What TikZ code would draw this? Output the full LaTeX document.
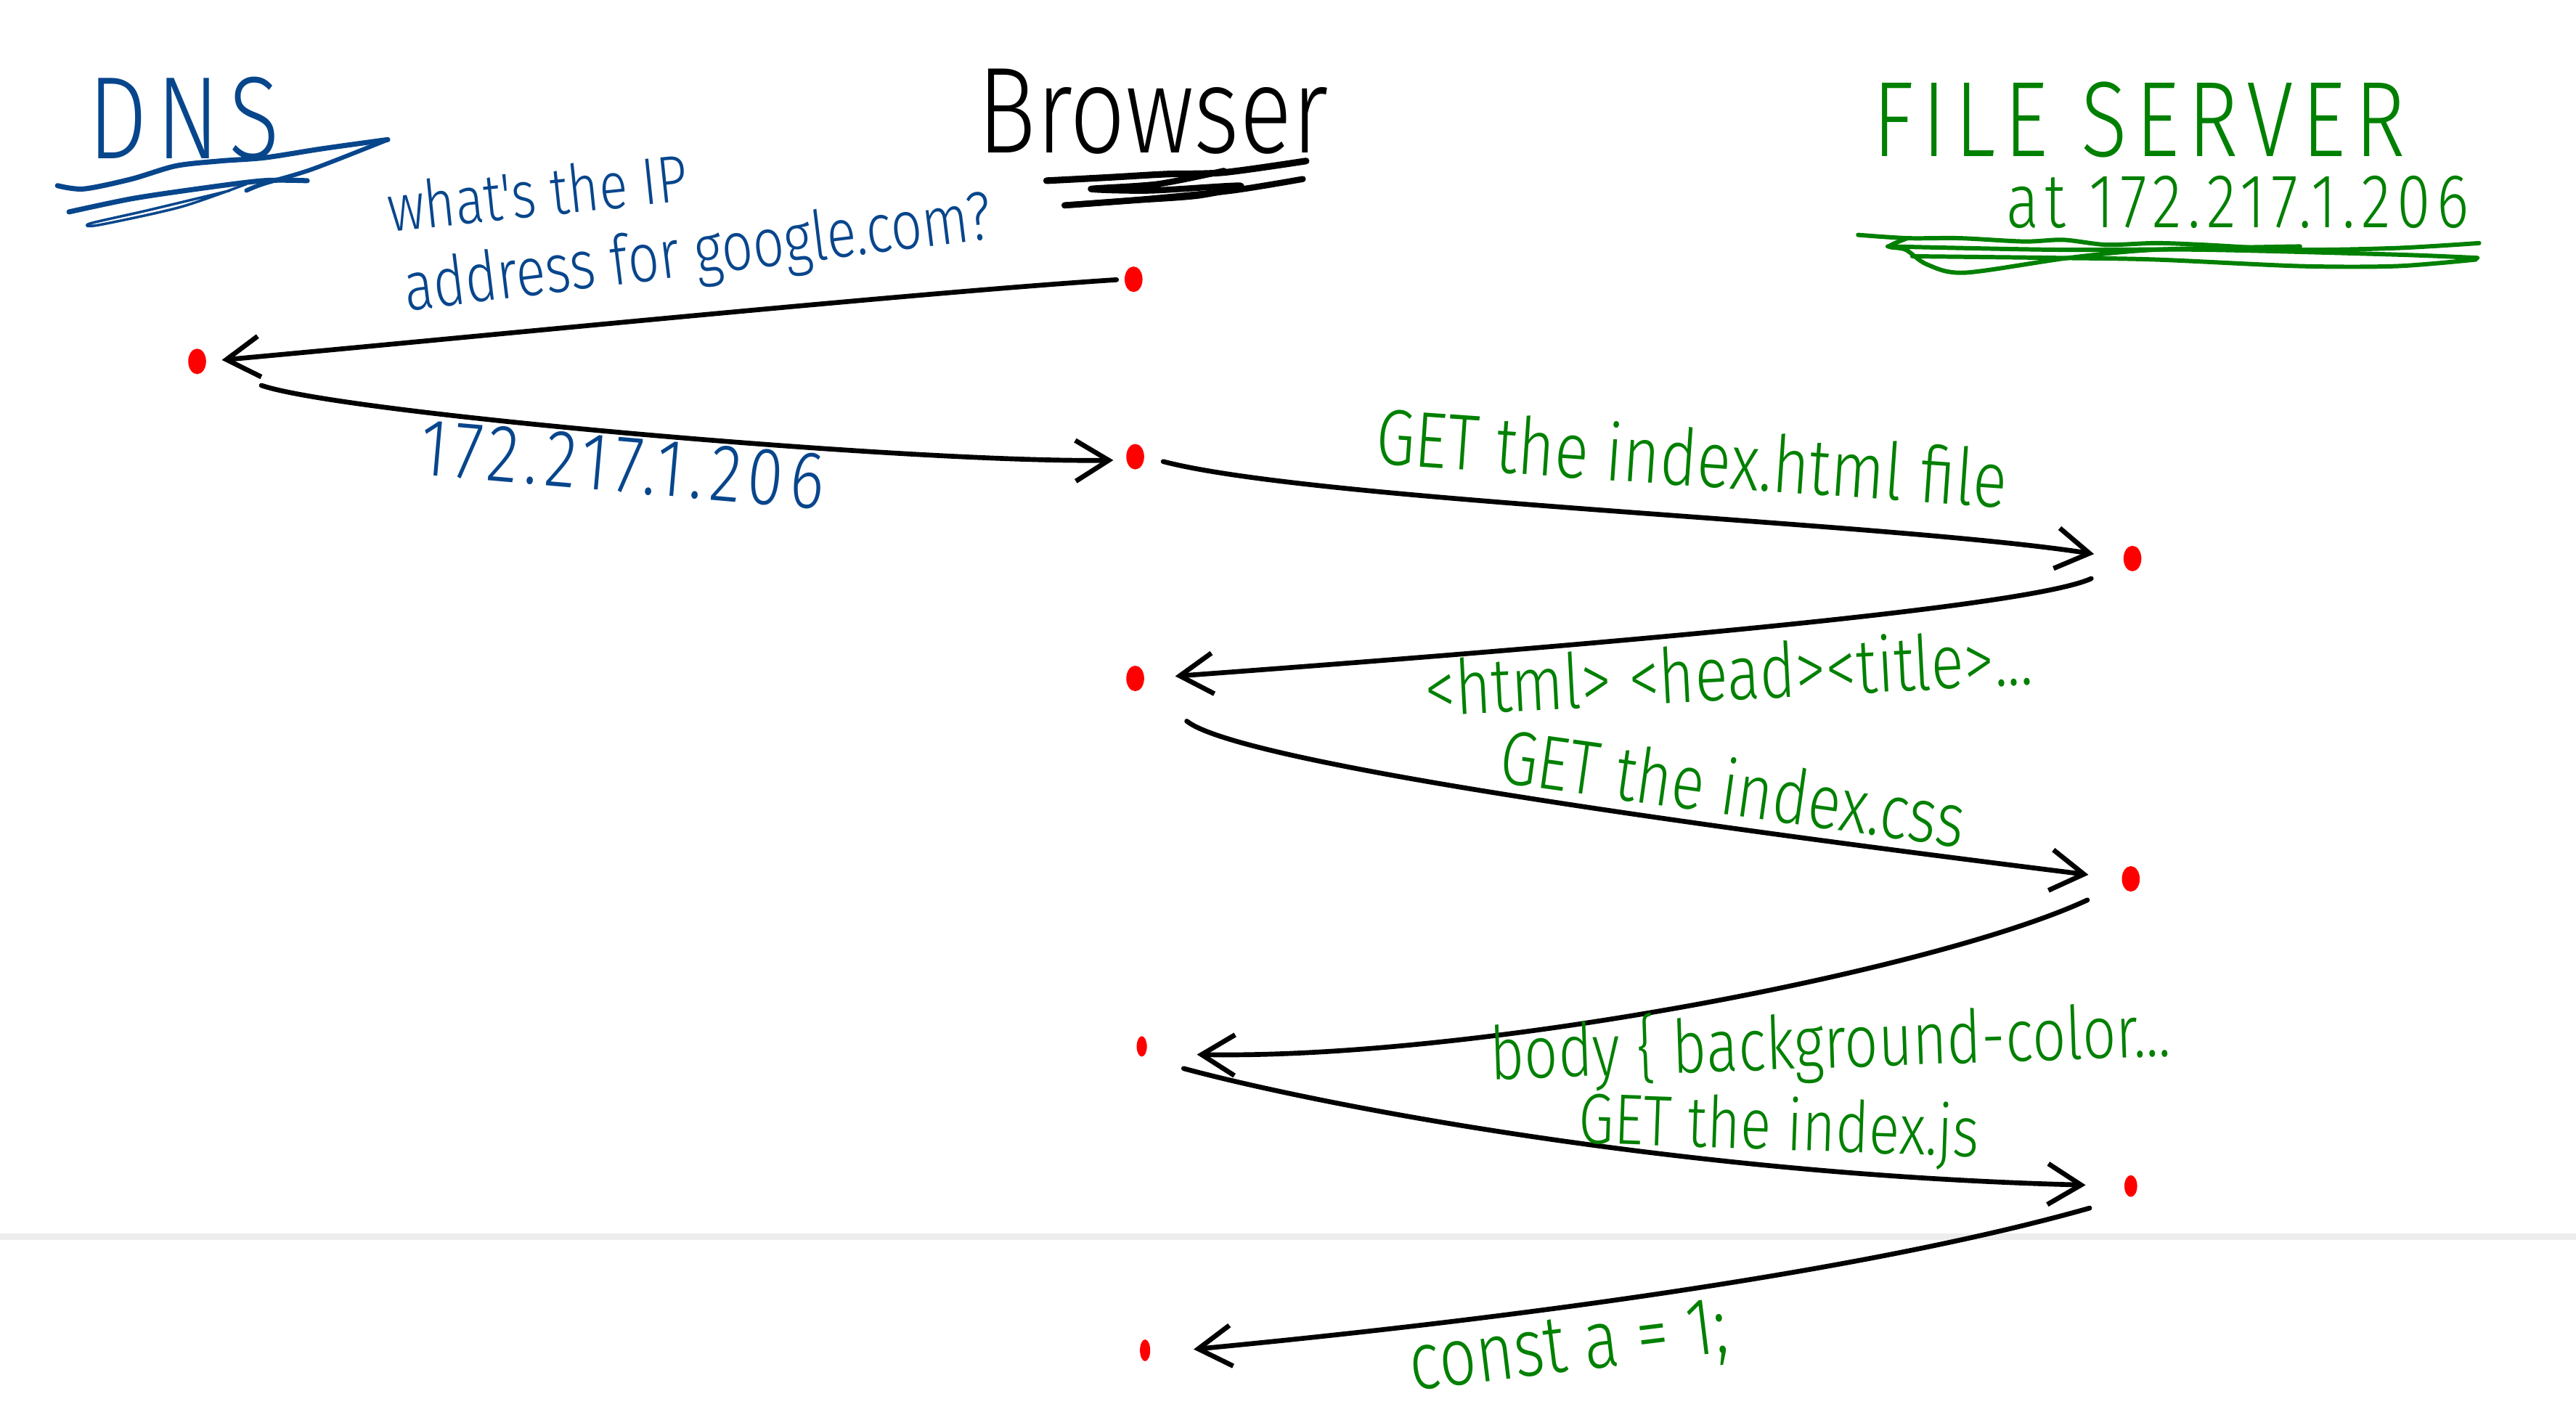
\documentclass[tikz,border=0pt]{standalone}
\usepackage{fontspec}
\newfontfamily\handfont[FakeStretch=0.8]{Fira Sans Light}
\newfontfamily\handwide[FakeStretch=0.8, LetterSpace=8]{Fira Sans Light}
\usetikzlibrary{arrows.meta, shapes.geometric}
\definecolor{inkblue}{RGB}{8,70,140}
\definecolor{inkgreen}{RGB}{0,128,0}
\definecolor{inkred}{RGB}{255,0,0}
\begin{document}
\begin{tikzpicture}[x=0.2263mm, y=-0.2263mm,
  every node/.style={inner sep=0pt},
  note/.style={font=\handfont\fontsize{#1}{#1}\selectfont},
  widenote/.style={font=\handwide\fontsize{#1}{#1}\selectfont},
  spot/.style={ellipse, fill=inkred, minimum width=7pt, minimum height=10pt},
  call/.style={line width=1.9pt, line cap=round, line join=round, -{Straight Barb[length=13pt, width=16pt]}},
  scribble/.style={line width=1.7pt, line cap=round, line join=round}
]
\fill[white] (0,0) rectangle (1568,869);
\useasboundingbox (0,0) rectangle (1568,869);

% page break
\draw[black!7, line width=2.5pt] (0,753) -- (1568,753);

% Headings
\node[widenote=46, text=inkblue] (dns) at (112,72) {DNS};
\node[note=48] (browser) at (702,68) {Browser};
\node[widenote=42, text=inkgreen] (server) at (1302,73) {FILE SERVER};
\node[widenote=30, text=inkgreen] (serverip) at (1362,123) {at 172.217.1.206};

% Underlines
\draw[scribble, inkblue, line width=2pt] plot[smooth] coordinates {(35,113) (51,115) (80,109) (107,101) (134,98) (161,96) (193,91) (214,88) (236,85)};
\draw[scribble, inkblue] plot[smooth] coordinates {(236,85) (190,103) (160,112) (150,116)};
\draw[scribble, inkblue, line width=2pt] plot[smooth] coordinates {(42,129) (80,121) (120,115) (160,110) (187,110)};
\draw[scribble, inkblue, line width=1pt] plot[smooth] coordinates {(150,112) (110,126) (60,137) (55,136) (90,128) (140,116)};
\draw[scribble, line width=2.6pt] plot[smooth] coordinates {(637,110) (675,108) (710,106) (745,105) (795,98)};
\draw[scribble, line width=2.4pt] plot[smooth] coordinates {(745,104) (705,112) (664,115) (700,116) (755,113) (730,119) (690,122) (648,125)};
\draw[scribble, line width=2.4pt] plot[smooth] coordinates {(648,125) (700,121) (750,116) (793,109)};
\draw[scribble, inkgreen] plot[smooth] coordinates {(1131,143) (1161,145) (1193,145) (1232,147) (1256,146) (1282,149) (1312,148) (1341,149) (1400,152) (1459,151) (1509,148)};
\draw[scribble, inkgreen] plot[smooth] coordinates {(1149,150) (1249,152) (1341,152) (1459,155) (1508,157)};
\draw[scribble, inkgreen] plot[smooth] coordinates {(1164,156) (1252,157) (1312,158) (1400,162) (1459,162) (1507,158)};
\draw[scribble, inkgreen] plot[smooth] coordinates {(1161,145) (1150,150) (1160,152) (1173,161) (1196,166) (1259,157) (1312,152) (1400,150)};

% Dots
\node[spot] (b1) at (690,170) {};
\node[spot] (d1) at (120,220) {};
\node[spot] (b2) at (691,278) {};
\node[spot] (s1) at (1298,340) {};
\node[spot] (b3) at (691,413) {};
\node[spot] (s2) at (1297,535) {};
\node[spot, minimum width=4pt, minimum height=8pt] (b4) at (695,637) {};
\node[spot, minimum width=5pt, minimum height=8.5pt] (s3) at (1297,722) {};
\node[spot, minimum width=4pt, minimum height=8.5pt] (b5) at (697,822) {};

% Calls
\draw[call, shorten <=3pt, shorten >=6pt] (b1.west) .. controls (560,178) and (290,205) .. (d1.east);
\draw[call, shorten <=23pt, shorten >=5pt] (d1.-30) .. controls (210,252) and (560,282) .. (b2.200);
\draw[call, shorten <=7.5pt, shorten >=11.5pt] (b2.east) .. controls (800,305) and (1150,318) .. (s1.west);
\draw[call, shorten <=14pt, shorten >=12pt] (s1.210) .. controls (1230,372) and (900,398) .. (b3.east);
\draw[call, shorten <=22pt, shorten >=13pt] (b3.-45) .. controls (755,465) and (1050,505) .. (s2.west);
\draw[call, shorten <=15pt, shorten >=20pt] (s2.210) .. controls (1180,590) and (900,645) .. (b4.-60);
\draw[call, shorten <=17pt, shorten >=15pt] (b4.south) .. controls (800,672) and (1020,715) .. (s3.west);
\draw[call, shorten <=16pt, shorten >=17pt] (s3.-100) .. controls (1150,770) and (950,800) .. (b5.-30);

% Messages
\node[note=26, text=inkblue, rotate=6] (ask1) at (327,117) {what's the IP};
\node[note=27, text=inkblue, rotate=7] (ask2) at (425,156) {address for google.com?};
\node[widenote=32, text=inkblue, rotate=-5] (answer) at (379,283) {172.217.1.206};
\node[note=31, text=inkgreen, rotate=-4] (gethtml) at (1030,278) {GET the index.html file};
\node[note=30, text=inkgreen, rotate=3] (html) at (1052,409) {<html> <head><title>...};
\node[note=30, text=inkgreen, rotate=-8] (getcss) at (1055,479) {GET the index.css};
\node[note=29, text=inkgreen, rotate=2] (css) at (1114,636) {body \{ background-color...};
\node[note=28, text=inkgreen, rotate=-2] (getjs) at (1083,688) {GET the index.js};
\node[note=32, text=inkgreen, rotate=7] (js) at (955,822) {const a = 1;};

\end{tikzpicture}
\end{document}
